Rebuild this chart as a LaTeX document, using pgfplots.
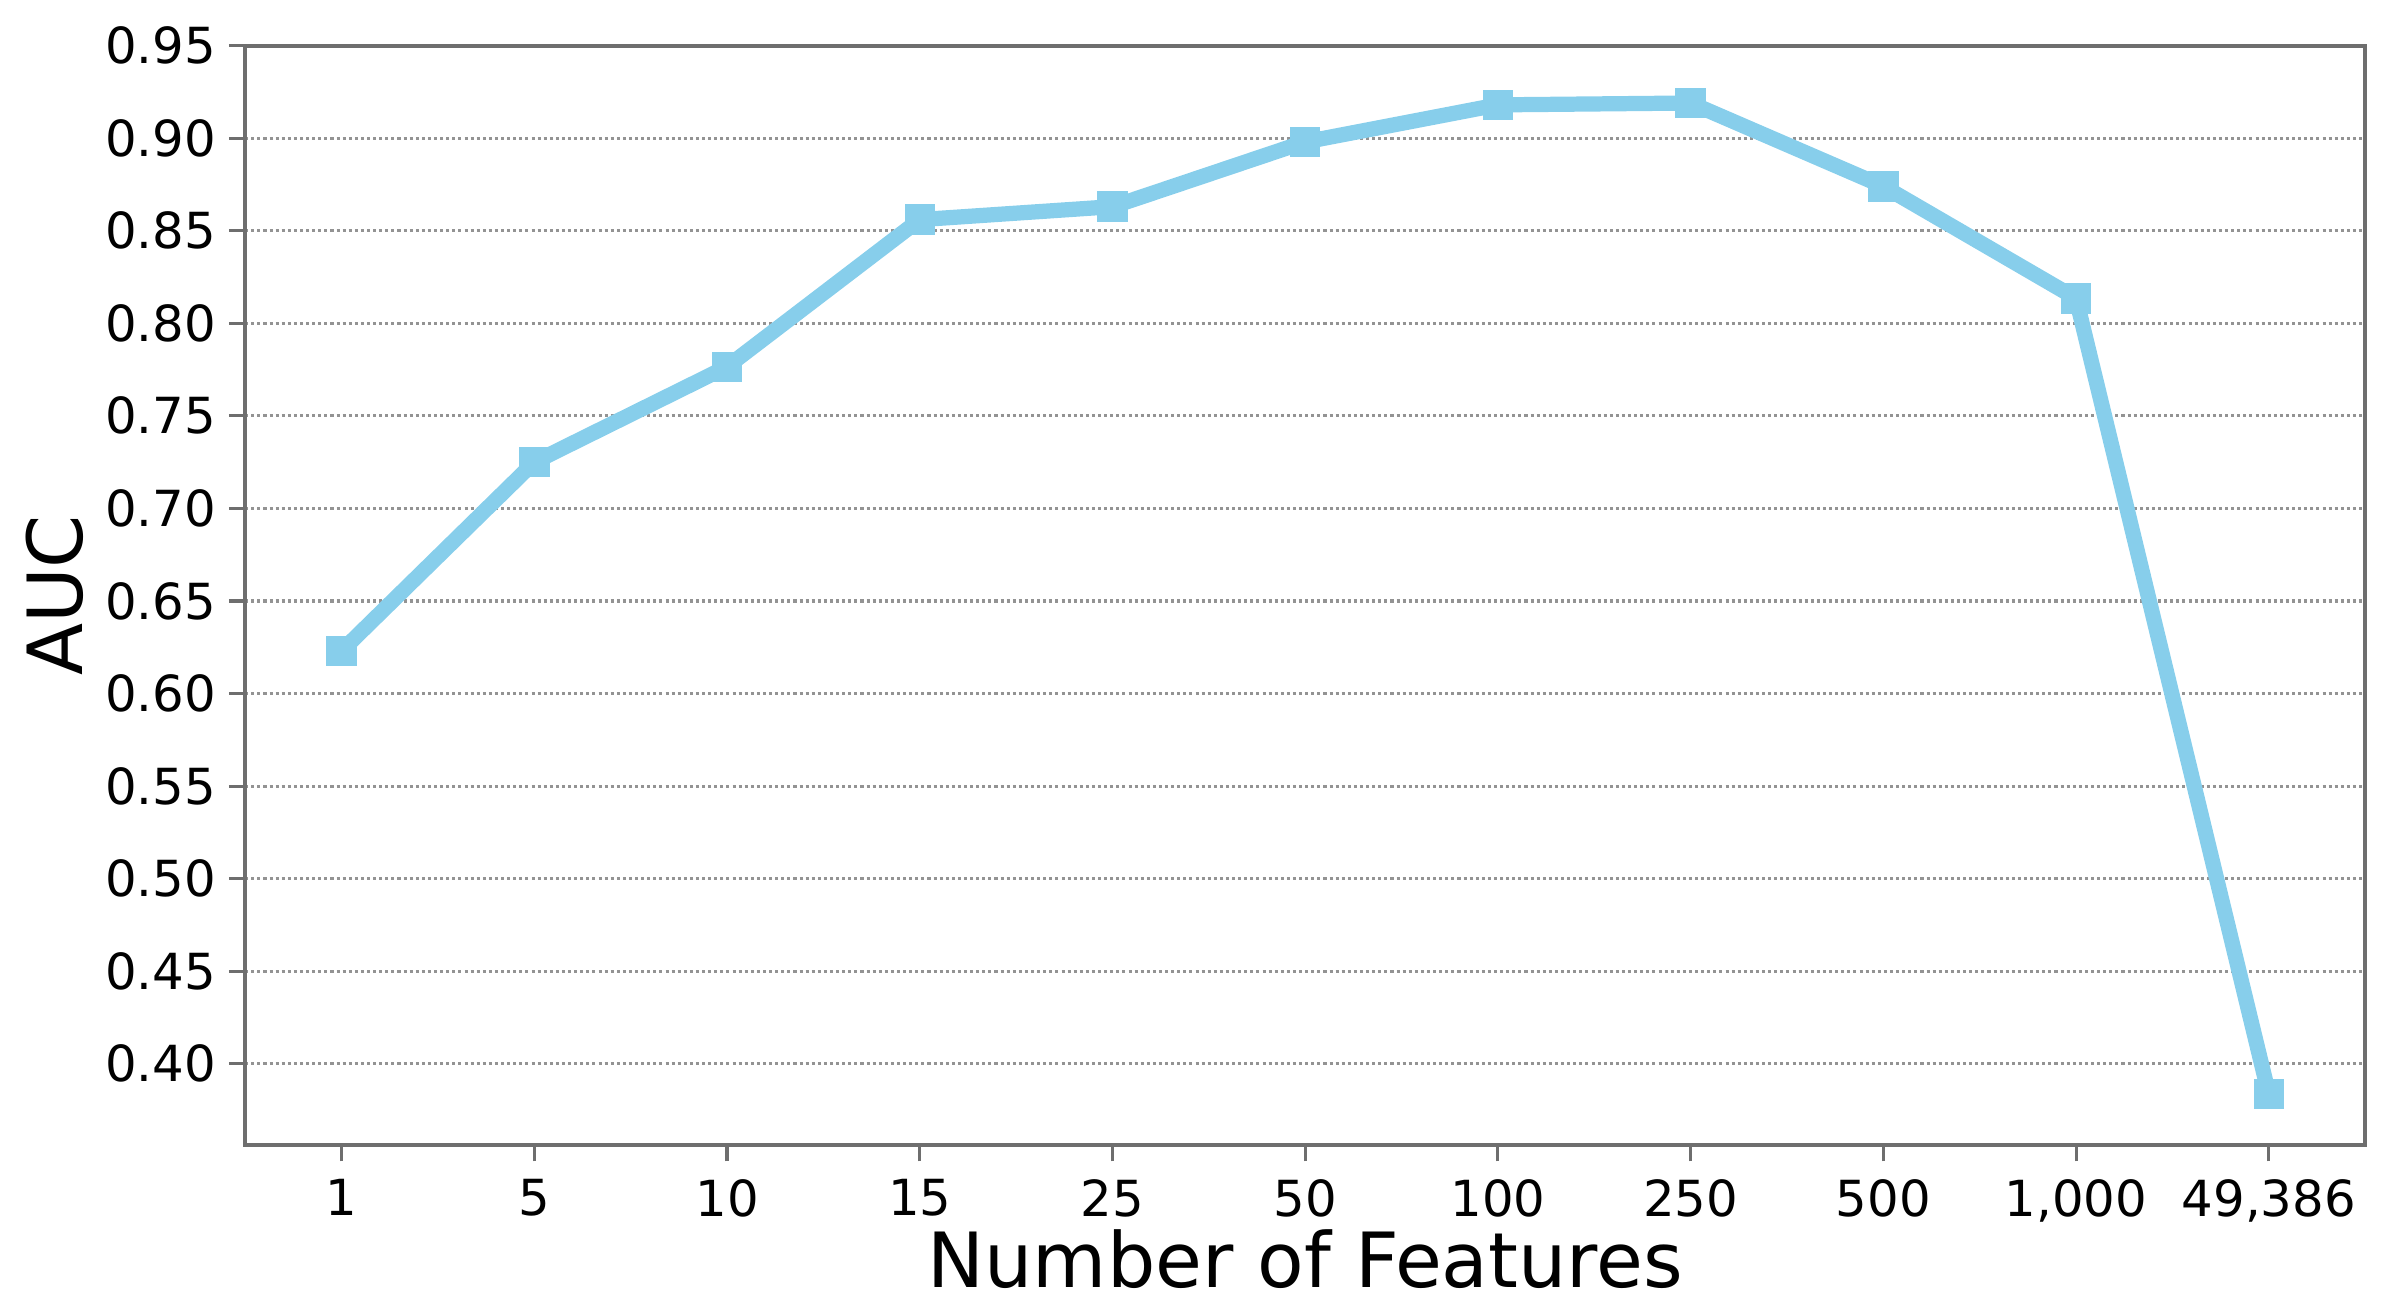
\documentclass[border=0pt]{standalone}
\usepackage{fontspec}
\setmainfont{DejaVu Sans}
\usepackage{pgfplots}
\pgfplotsset{compat=1.18}
\definecolor{skyblue}{RGB}{135,206,235}
\definecolor{spinegray}{RGB}{110,110,110}
\begin{document}
\begin{tikzpicture}
\useasboundingbox (-48.3pt,-32.7pt) rectangle (422.1pt,225.6pt);
\begin{axis}[
  at={(0,0)}, anchor=south west,
  scale only axis,
  width=417.6pt, height=216.6pt,
  xmin=-0.5, xmax=10.5,
  ymin=0.356, ymax=0.95,
  xtick={0,1,2,3,4,5,6,7,8,9,10},
  xticklabels={1,5,10,15,25,50,100,250,500,{1,000},{49,386}},
  ytick={0.40,0.45,0.50,0.55,0.60,0.65,0.70,0.75,0.80,0.85,0.90,0.95},
  yticklabel style={xshift=1.0pt, /pgf/number format/fixed, /pgf/number format/fixed zerofill, /pgf/number format/precision=2},
  /pgf/number format/assume math mode=true,
  tick label style={font=\fontsize{9.8}{11}\selectfont, black},
  tick align=outside,
  major tick length=3.2pt,
  tick style={spinegray, line width=0.6pt},
  xtick pos=bottom, ytick pos=left,
  axis line style={spinegray, line width=0.8pt},
  ymajorgrids,
  grid style={gray!85, dash pattern=on 0.6pt off 0.6pt, line width=0.6pt},
  xlabel={Number of Features},
  ylabel={AUC},
  label style={font=\fontsize{15}{18}\selectfont},
  xlabel style={at={(0.5,0)}, anchor=base, yshift=-28pt},
  ylabel style={anchor=center},
  every axis y label/.append style={at={(-37.5pt,108.3pt)}},
  clip=false,
]
\addplot[skyblue, line width=3.0pt, mark=square*, mark size=2.9pt,
  mark options={fill=skyblue, draw=skyblue, line width=0pt}]
coordinates {
(0,0.623) (1,0.725) (2,0.7765) (3,0.856) (4,0.863) (5,0.898)
(6,0.918) (7,0.919) (8,0.874) (9,0.8135) (10,0.3836)
};
\end{axis}
\end{tikzpicture}
\end{document}
